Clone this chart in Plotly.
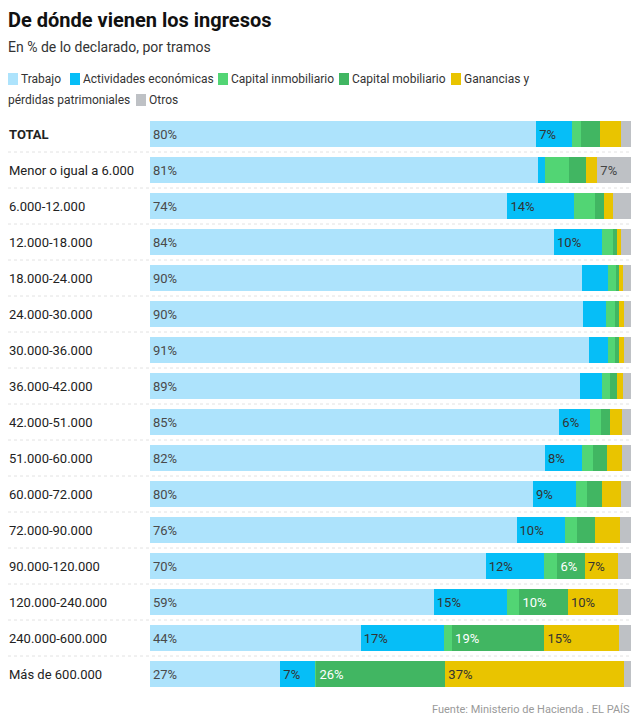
"""
De dónde vienen los ingresos - stacked horizontal bars (Plotly)
"""

import plotly.graph_objects as go

# page body has an 8px margin, so the figure is 16px smaller than the window
OFF = 8
W, H = 640 - 2 * OFF, 724 - 2 * OFF

tramos = [
    'TOTAL', 'Menor o igual a 6.000', '6.000-12.000', '12.000-18.000',
    '18.000-24.000', '24.000-30.000', '30.000-36.000', '36.000-42.000',
    '42.000-51.000', '51.000-60.000', '60.000-72.000', '72.000-90.000',
    '90.000-120.000', '120.000-240.000', '240.000-600.000', 'Más de 600.000',
]

trabajo = [80.3, 80.6, 74.3, 84.0, 89.8, 90.0, 91.2, 89.4, 85.1, 82.1, 79.6, 76.2, 69.8, 59.0, 43.8, 27.1]
actividades = [7.4, 1.5, 13.9, 9.9, 5.5, 4.9, 4.1, 4.5, 6.4, 7.8, 8.9, 10.1, 12.2, 15.3, 17.4, 7.3]
cap_inmobiliario = [1.9, 5.0, 4.4, 2.4, 1.6, 1.8, 1.4, 1.8, 2.2, 2.3, 2.3, 2.4, 2.7, 2.5, 1.6, 0.2]
cap_mobiliario = [4.0, 3.5, 1.8, 0.7, 0.6, 0.8, 0.9, 1.3, 2.0, 2.8, 3.2, 3.8, 5.7, 10.1, 19.2, 26.8]
ganancias = [4.4, 2.4, 1.8, 1.0, 0.9, 1.0, 1.0, 1.3, 2.4, 3.2, 4.0, 5.2, 6.9, 10.4, 15.6, 37.2]
otros = [2.0, 7.0, 3.8, 2.0, 1.6, 1.5, 1.4, 1.7, 1.8, 1.8, 2.0, 2.3, 2.7, 2.7, 2.4, 1.6]

# labels printed inside the bars (blank where the segment is too small)
txt_trabajo = ['80%', '81%', '74%', '84%', '90%', '90%', '91%', '89%', '85%', '82%', '80%', '76%', '70%', '59%', '44%', '27%']
txt_actividades = ['7%', '', '14%', '10%', '', '', '', '', '6%', '8%', '9%', '10%', '12%', '15%', '17%', '7%']
txt_inmobiliario = [''] * 16
txt_mobiliario = ['', '', '', '', '', '', '', '', '', '', '', '', '6%', '10%', '19%', '26%']
txt_ganancias = ['', '', '', '', '', '', '', '', '', '', '', '', '7%', '10%', '15%', '37%']
txt_otros = ['', '7%', '', '', '', '', '', '', '', '', '', '', '', '', '', '']

series = [
    ('Trabajo', trabajo, txt_trabajo, '#ADE3FC', '#4a4a4a'),
    ('Actividades económicas', actividades, txt_actividades, '#06BEF7', '#333333'),
    ('Capital inmobiliario', cap_inmobiliario, txt_inmobiliario, '#52D574', '#333333'),
    ('Capital mobiliario', cap_mobiliario, txt_mobiliario, '#41B662', '#ffffff'),
    ('Ganancias y pérdidas patrimoniales', ganancias, txt_ganancias, '#E9C400', '#333333'),
    ('Otros', otros, txt_otros, '#BEC1C5', '#444444'),
]

FONT = 'Roboto'


def px_x(x):
    # x in window pixels -> paper
    return (x - OFF) / W


def px_y(y):
    return 1 - (y - OFF) / H


fig = go.Figure()

for name, vals, txt, color, tcolor in series:
    fig.add_trace(go.Bar(
        y=tramos,
        x=vals,
        name=name,
        orientation='h',
        marker=dict(color=color, line=dict(width=0)),
        text=txt,
        textposition='inside',
        insidetextanchor='start',
        textfont=dict(family=FONT, size=13, color=tcolor),
        showlegend=False,
        hovertemplate='%{y}<br>' + name + ': %{x:.1f}%<extra></extra>',
    ))

fig.update_layout(
    barmode='stack',
    bargap=0.3,
    width=W,
    height=H,
    margin=dict(l=0, r=0, t=0, b=0),
    paper_bgcolor='white',
    plot_bgcolor='white',
    font=dict(family=FONT, color='#222222'),
    uniformtext=dict(minsize=12, mode='show'),
    xaxis=dict(domain=[px_x(150), px_x(631)], range=[0, 100], visible=False, fixedrange=True),
    yaxis=dict(domain=[px_y(692), px_y(116)], autorange='reversed', visible=False,
               type='category', fixedrange=True),
)

# row labels, left aligned
for t in tramos:
    label = '<b>TOTAL</b>' if t == 'TOTAL' else t
    fig.add_annotation(
        x=px_x(7), xref='paper', xanchor='left',
        y=t, yref='y', yanchor='middle',
        text=label, showarrow=False,
        font=dict(family=FONT, size=13, color='#222222'),
    )

# dotted separators between rows
for i in range(len(tramos) - 1):
    fig.add_shape(
        type='line', xref='paper', yref='y',
        x0=px_x(8), x1=px_x(631), y0=i + 0.5, y1=i + 0.5,
        line=dict(color='#e2e2e2', width=1, dash='dot'),
    )

# title and subtitle
fig.add_annotation(
    x=px_x(6), y=px_y(20), xref='paper', yref='paper', xanchor='left', yanchor='middle',
    text='<b>De dónde vienen los ingresos</b>', showarrow=False,
    font=dict(family=FONT, size=20, color='#111111'),
)
fig.add_annotation(
    x=px_x(6), y=px_y(47), xref='paper', yref='paper', xanchor='left', yanchor='middle',
    text='En % de lo declarado, por tramos', showarrow=False,
    font=dict(family=FONT, size=14, color='#333333'),
)

# hand made legend (wraps like the original)
legend_items = [
    (8, 79, '#ADE3FC', 'Trabajo'),
    (70, 79, '#06BEF7', 'Actividades económicas'),
    (218, 79, '#52D574', 'Capital inmobiliario'),
    (339, 79, '#41B662', 'Capital mobiliario'),
    (451, 79, '#E9C400', 'Ganancias y'),
    (136, 100, '#BEC1C5', 'Otros'),
]
for lx, ly, color, label in legend_items:
    fig.add_shape(
        type='rect', xref='paper', yref='paper',
        x0=px_x(lx), x1=px_x(lx + 10), y0=px_y(ly + 6), y1=px_y(ly - 6),
        fillcolor=color, line=dict(width=0),
    )
    fig.add_annotation(
        x=px_x(lx + 11), y=px_y(ly), xref='paper', yref='paper',
        xanchor='left', yanchor='middle', text=label, showarrow=False,
        font=dict(family=FONT, size=12, color='#333333'),
    )
fig.add_annotation(
    x=px_x(6), y=px_y(100), xref='paper', yref='paper',
    xanchor='left', yanchor='middle', text='pérdidas patrimoniales', showarrow=False,
    font=dict(family=FONT, size=12, color='#333333'),
)

# source
fig.add_annotation(
    x=px_x(632), y=px_y(709), xref='paper', yref='paper', xanchor='right', yanchor='middle',
    text='Fuente: Ministerio de Hacienda . EL PAÍS', showarrow=False,
    font=dict(family=FONT, size=11, color='#9a9a9a'),
)

fig.write_html("out.html")
